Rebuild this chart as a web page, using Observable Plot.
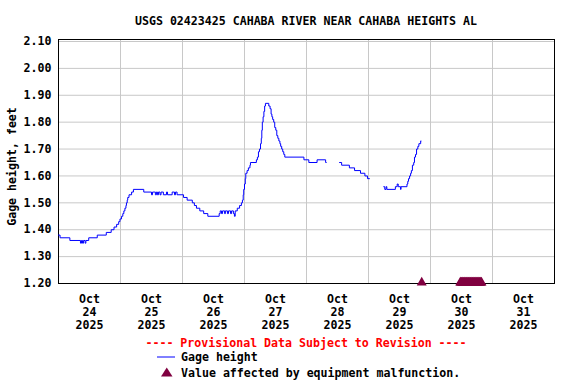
<!DOCTYPE html>
<html><head><meta charset="utf-8">
<script src="https://cdn.jsdelivr.net/npm/d3@7"></script>
<script src="https://cdn.jsdelivr.net/npm/@observablehq/plot@0.6"></script>
<style>
body{margin:0;background:#fff;}
#wrap{width:576px;height:384px;position:relative;font-family:"DejaVu Sans Mono",monospace;font-weight:bold;font-size:11.6px;color:#000;}
#title{position:absolute;left:58px;width:496px;top:14px;line-height:14px;text-align:center;white-space:pre;}
#chart{position:absolute;left:0;top:30px;}
.leg{position:absolute;line-height:14px;white-space:pre;}
</style></head><body>
<div id="wrap">
  <div id="title"></div>
  <div id="chart"></div>
  <div class="leg" id="prov" style="left:58px;width:496px;text-align:center;top:336px;color:#ff0000"></div>
  <svg style="position:absolute;left:157px;top:356px" width="18" height="2"><line x1="0" x2="18" y1="1" y2="1" stroke="#0000ff" stroke-width="1"/></svg>
  <div class="leg" id="leg1" style="left:181px;top:350px"></div>
  <svg style="position:absolute;left:161px;top:367px" width="12" height="10"><polygon points="0,9.5 11.5,9.5 5.75,0.5" fill="#800040"/></svg>
  <div class="leg" id="leg2" style="left:181px;top:366px"></div>
</div>
<script>
const titleText = "USGS 02423425 CAHABA RIVER NEAR CAHABA HEIGHTS AL";
const yLabel = "Gage height, feet";
const provisionalText = "---- Provisional Data Subject to Revision ----";
const seriesName = "Gage height";
const malfName = "Value affected by equipment malfunction.";

// hours since 2025-10-24 00:00
const gageHours = [
  0,0.6,4.4,8.5,8.9,9.3,9.7,10.3,10.6,11.7,15.0,18.5,20.4,21.5,22.5,23.3,23.8,24.4,24.9,25.3,
  25.7,26.1,26.3,26.6,26.8,27.3,28.3,29.0,33.0,36.0,36.4,37.5,37.9,38.3,38.7,39.3,39.7,40.6,41.8,42.2,
  44.0,44.9,45.3,45.9,48.4,49.8,51.8,52.6,53.4,54.7,56.2,57.8,62.2,62.6,63.1,63.5,64.3,64.6,65.4,65.8,
  66.6,67.0,67.7,68.1,68.4,69.2,70.1,70.8,71.2,71.5,71.7,72.0,72.3,72.5,73.0,73.5,74.1,74.3,76.6,77.0,
  77.4,77.8,78.2,78.5,78.7,78.9,79.2,79.5,79.8,80.1,81.4,81.9,82.3,82.6,82.9,83.3,83.7,84.1,84.5,84.9,
  85.3,85.7,86.0,86.4,86.8,87.2,87.6,95.0,96.9,100.1,103.4,103.7,106.0,
  108.8,109.6,112.6,114.6,116.9,118.6,119.6,120.4,122.0,
  125.9,126.3,126.8,127.1,130.4,131.1,131.5,132.4,132.6,134.9,135.2,135.5,135.9,136.3,136.6,137.0,
  137.5,137.8,138.2,138.6,139.1,139.5,140.2,140.4
];
const gageFeet = [
  1.38,1.37,1.36,1.35,1.36,1.35,1.36,1.35,1.36,1.37,1.38,1.39,1.40,1.41,1.42,1.43,1.44,1.45,1.46,1.47,
  1.48,1.49,1.50,1.51,1.52,1.53,1.54,1.55,1.54,1.53,1.54,1.53,1.54,1.53,1.54,1.53,1.54,1.53,1.54,1.53,
  1.54,1.53,1.54,1.53,1.52,1.51,1.50,1.49,1.48,1.47,1.46,1.45,1.46,1.47,1.46,1.47,1.46,1.47,1.46,1.47,
  1.46,1.47,1.46,1.45,1.47,1.48,1.49,1.50,1.51,1.53,1.55,1.57,1.59,1.61,1.62,1.63,1.64,1.65,1.66,1.67,
  1.69,1.70,1.72,1.74,1.77,1.80,1.82,1.84,1.86,1.87,1.86,1.85,1.83,1.82,1.81,1.80,1.78,1.77,1.75,1.74,
  1.73,1.72,1.71,1.70,1.69,1.68,1.67,1.66,1.65,1.66,1.65,1.65,null,
  1.65,1.64,1.63,1.62,1.61,1.60,1.59,1.59,null,
  1.56,1.55,1.56,1.55,1.56,1.57,1.56,1.55,1.56,1.57,1.58,1.59,1.60,1.61,1.62,1.64,
  1.65,1.67,1.68,1.70,1.71,1.72,1.73,1.73
];
// hours since 2025-10-24 00:00 of values flagged as equipment malfunction
const malfHours = [
  140.6,
  155.5,155.75,156.0,156.25,156.5,156.75,157.0,157.25,157.5,157.75,158.0,158.25,158.5,158.75,
  159.0,159.25,159.5,159.75,160.0,160.25,160.5,160.75,161.0,161.25,161.5,161.75,162.0,162.25,
  162.5,162.75,163.0,163.25,163.5,163.75
];
const dayMonth = ["Oct","Oct","Oct","Oct","Oct","Oct","Oct","Oct"];
const dayNumbers = ["24","25","26","27","28","29","30","31"];
const dayYears = ["2025","2025","2025","2025","2025","2025","2025","2025"];
const yTicks = [1.20,1.30,1.40,1.50,1.60,1.70,1.80,1.90,2.00,2.10];

const startMs = Date.UTC(2025, 9, 24);
const toDate = h => new Date(startMs + h * 3600e3);
const gage = gageHours.map((h, i) => ({t: toDate(h), v: gageFeet[i]}));
const malf = malfHours.map(h => ({t: toDate(h), v: 1.20}));
const noons = dayNumbers.map((d, i) => ({t: toDate(12 + 24 * i), label: dayMonth[i] + "\n" + d + "\n" + dayYears[i]}));
const xStart = toDate(0), xEnd = toDate(24 * dayNumbers.length);
const midnights = d3.utcDay.range(toDate(24), xEnd);

document.getElementById("title").textContent = titleText;
document.getElementById("prov").textContent = provisionalText;
document.getElementById("leg1").textContent = seriesName;
document.getElementById("leg2").textContent = malfName;

const chart = Plot.plot({
  width: 576,
  height: 306,
  marginLeft: 58,
  marginRight: 22,
  marginTop: 9,
  marginBottom: 53,
  style: {fontFamily: "DejaVu Sans Mono, monospace", fontWeight: "bold", fontSize: "11.6px", color: "#000", background: "transparent"},
  x: {type: "utc", domain: [xStart, xEnd], axis: null},
  y: {domain: [1.20, 2.10], insetTop: 2, axis: null},
  marks: [
    Plot.gridX(midnights, {stroke: "#c8c8c8", strokeOpacity: 1}),
    Plot.gridY(yTicks, {stroke: "#c8c8c8", strokeOpacity: 1}),
    Plot.frame({stroke: "#000"}),
    Plot.line(gage, {x: "t", y: "v", stroke: "#0000ff", strokeWidth: 1, curve: "step-after"}),
    Plot.dot(malf, {x: "t", y: "v", symbol: "triangle", r: 3.7, fill: "#800040", stroke: "none", dy: -1}),
    Plot.axisY(yTicks, {tickSize: 0, tickPadding: 7, tickFormat: d => d.toFixed(2), label: null, fontSize: 11.6}),
    Plot.text(noons, {x: "t", text: "label", frameAnchor: "bottom", lineAnchor: "top", dy: 10, lineHeight: 1.12, fontSize: 11.6}),
    Plot.text([yLabel], {frameAnchor: "left", textAnchor: "middle", rotate: -90, dx: -46, dy: 5, fontSize: 11.6})
  ]
});
document.getElementById("chart").appendChild(chart);
</script>
</body></html>
